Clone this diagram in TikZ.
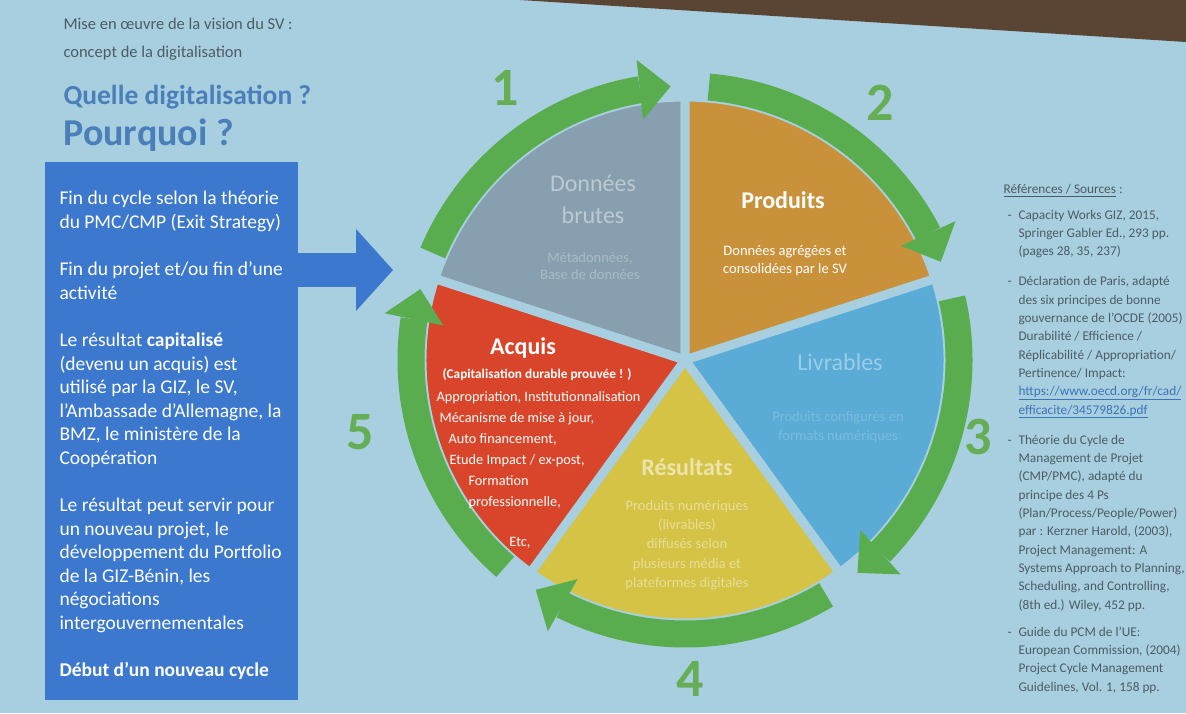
\documentclass[tikz,border=0pt]{standalone}
\usepackage{fontspec}
\setmainfont{Carlito}
\usetikzlibrary{arrows.meta,bending}

\definecolor{slidebg}{HTML}{A8CFDF}
\definecolor{panelblue}{HTML}{3B78CE}
\definecolor{ringgreen}{HTML}{5AAD4E}
\definecolor{numgreen}{HTML}{66AE55}
\definecolor{brutgray}{HTML}{879FAE}
\definecolor{prodorange}{HTML}{C9923A}
\definecolor{livblue}{HTML}{5AABD6}
\definecolor{resyellow}{HTML}{D5C345}
\definecolor{acqred}{HTML}{D8452A}
\definecolor{headblue}{HTML}{4A7FB9}
\definecolor{notegray}{HTML}{4C5C64}
\definecolor{wallbrown}{HTML}{5A4434}
\definecolor{linkblue}{HTML}{3D74B8}

\newcommand{\rdash}{\hspace*{4pt}\makebox[11pt][l]{-}}
\newcommand{\rind}{\hspace*{15pt}}

\begin{document}
\begin{tikzpicture}[
  x=1pt, y=1pt,
  slice/.style={draw=slidebg, line width=9pt, line join=round},
  ring/.style={draw=ringgreen, line width=27pt,
    -{Triangle[length=31pt,width=60pt,line width=0pt]}},
  entryarrow/.style={draw=panelblue, line width=34pt,
    -{Triangle[length=37pt,width=82pt,line width=0pt]}},
  panel/.style={fill=panelblue, minimum width=253pt, minimum height=538pt, inner sep=0pt},
  cycnum/.style={font=\fontsize{54}{60}\selectfont\bfseries, text=numgreen},
  stitle/.style={font=\fontsize{24}{32}\selectfont, align=center},
  ssub/.style={font=\fontsize{14.5}{18}\selectfont, align=center}
]
\useasboundingbox (0,0) rectangle (1186,713);
\fill[slidebg] (0,0) rectangle (1186,713);
\fill[wallbrown] (520,713) -- (1186,713) -- (1186,671) -- cycle;

% titles
\node[anchor=west, align=left, text=notegray, font=\fontsize{16.5}{28}\selectfont]
  (subject) at (60,674) {Mise en œuvre de la vision du SV :\\concept de la digitalisation};
\node[anchor=west, text=headblue, font=\fontsize{27.5}{30}\selectfont\bfseries]
  (question) at (60,616) {Quelle digitalisation ?};
\node[anchor=west, text=headblue, font=\fontsize{38}{42}\selectfont\bfseries]
  (why) at (60,578) {Pourquoi ?};

% left panel
\node[panel] (panel) at (171.5,282) {};
\node[anchor=west, align=left, text=white, font=\fontsize{19.5}{23.5}\selectfont]
  (paneltext) at (56,277.5) {Fin du cycle selon la théorie\\
  du PMC/CMP (Exit Strategy)\\[24pt]
  Fin du projet et/ou fin d’une\\
  activité\\[24pt]
  Le résultat \textbf{capitalisé}\\
  (devenu un acquis) est\\
  utilisé par la GIZ, le SV,\\
  l’Ambassade d’Allemagne, la\\
  BMZ, le ministère de la\\
  Coopération\\[24pt]
  Le résultat peut servir pour\\
  un nouveau projet, le\\
  développement du Portfolio\\
  de la GIZ-Bénin, les\\
  négociations\\
  intergouvernementales\\[24pt]
  \textbf{Début d’un nouveau cycle}};
\coordinate (arrowtip) at (393,443);
\draw[entryarrow] (panel.east |- arrowtip) -- (arrowtip);

% cycle
\coordinate (C) at (685,353);
\filldraw[slice, fill=brutgray] (C) -- ++(90:263) arc[start angle=90, end angle=162, radius=263] -- cycle;
\filldraw[slice, fill=prodorange] (C) -- ++(18:263) arc[start angle=18, end angle=90, radius=263] -- cycle;
\filldraw[slice, fill=livblue] (C) -- ++(-54:263) arc[start angle=-54, end angle=18, radius=263] -- cycle;
\filldraw[slice, fill=resyellow] (C) -- ++(-126:263) arc[start angle=-126, end angle=-54, radius=263] -- cycle;
\filldraw[slice, fill=acqred] (C) -- ++(162:263) arc[start angle=162, end angle=234, radius=263] -- cycle;

\draw[ring] (C) ++(157:274) arc[start angle=157, end angle=93, radius=274];
\draw[ring] (C) ++(85:274) arc[start angle=85, end angle=21, radius=274];
\draw[ring] (C) ++(13:274) arc[start angle=13, end angle=-51, radius=274];
\draw[ring] (C) ++(-59:274) arc[start angle=-59, end angle=-123, radius=274];
\draw[ring] (C) ++(-131:274) arc[start angle=-131, end angle=-195, radius=274];

\node[cycnum] (n1) at (505,625) {1};
\node[cycnum] (n2) at (880,610) {2};
\node[cycnum] (n3) at (978,276) {3};
\node[cycnum] (n4) at (690,34) {4};
\node[cycnum] (n5) at (360,281) {5};

% slice texts
\node[stitle, text=brutgray!55!white] (brutname) at (593,514) {Données\\brutes};
\node[ssub, text=brutgray!70!white, font=\fontsize{14.5}{17}\selectfont] (brutnote) at (590,447) {Métadonnées,\\Base de données};
\node[stitle, text=white, font=\fontsize{24}{32}\selectfont\bfseries] (prodname) at (783,513) {Produits};
\node[ssub, text=white] (prodnote) at (785,452) {Données agrégées et\\consolidées par le SV};
\node[stitle, text=livblue!60!white] (livname) at (840,351) {Livrables};
\node[ssub, text=livblue!80!white, font=\fontsize{14.5}{19}\selectfont] (livnote) at (838,286) {Produits configurés en\\formats numériques};
\node[stitle, text=white, font=\fontsize{24}{32}\selectfont\bfseries] (acqname) at (523,365) {Acquis};
\node[text=white, font=\fontsize{13.3}{16}\selectfont\bfseries] (acqmotto) at (537,338) {(Capitalisation durable prouvée ! )};
\node[anchor=west, align=left, text=white, font=\fontsize{14.3}{21}\selectfont] (acqlist) at (433,262.5) {Appropriation, Institutionnalisation\\
  \hspace*{3pt}Mécanisme de mise à jour,\\
  \hspace*{12pt}Auto financement,\\
  \hspace*{13pt}Etude Impact / ex-post,\\
  \hspace*{32pt}Formation\\
  \hspace*{32pt}professionnelle,};
\node[text=white, font=\fontsize{14.3}{17}\selectfont] (acqetc) at (520,170) {Etc,};
\node[stitle, text=resyellow!45!white, font=\fontsize{24}{32}\selectfont\bfseries] (resname) at (687,246) {Résultats};
\node[ssub, text=resyellow!55!white, font=\fontsize{14.5}{19.3}\selectfont] (resnote) at (687,168) {Produits numériques\\(livrables)\\diffusés selon\\plusieurs média et\\plateformes digitales};

% references
\node[anchor=west, align=left, text=notegray, font=\fontsize{13.3}{18.3}\selectfont] (refs) at (1000,274) {\underline{Références / Sources} :\\[7pt]
  \rdash Capacity Works GIZ, 2015,\\
  \rind Springer Gabler Ed., 293 pp.\\
  \rind (pages 28, 35, 237)\\[12pt]
  \rdash Déclaration de Paris, adapté\\
  \rind des six principes de bonne\\
  \rind gouvernance de l’OCDE (2005)\\
  \rind Durabilité / Efficience /\\
  \rind Réplicabilité / Appropriation/\\
  \rind Pertinence/ Impact:\\
  \rind \textcolor{linkblue}{\underline{https://www.oecd.org/fr/cad/}}\\
  \rind \textcolor{linkblue}{\underline{efficacite/34579826.pdf}}\\[12pt]
  \rdash Théorie du Cycle de\\
  \rind Management de Projet\\
  \rind (CMP/PMC), adapté du\\
  \rind principe des 4 Ps\\
  \rind (Plan/Process/People/Power)\\
  \rind par : Kerzner Harold, (2003),\\
  \rind Project Management: A\\
  \rind Systems Approach to Planning,\\
  \rind Scheduling, and Controlling,\\
  \rind (8th ed.) Wiley, 452 pp.\\[9pt]
  \rdash Guide du PCM de l’UE:\\
  \rind European Commission, (2004)\\
  \rind Project Cycle Management\\
  \rind Guidelines, Vol. 1, 158 pp.};
\end{tikzpicture}
\end{document}
